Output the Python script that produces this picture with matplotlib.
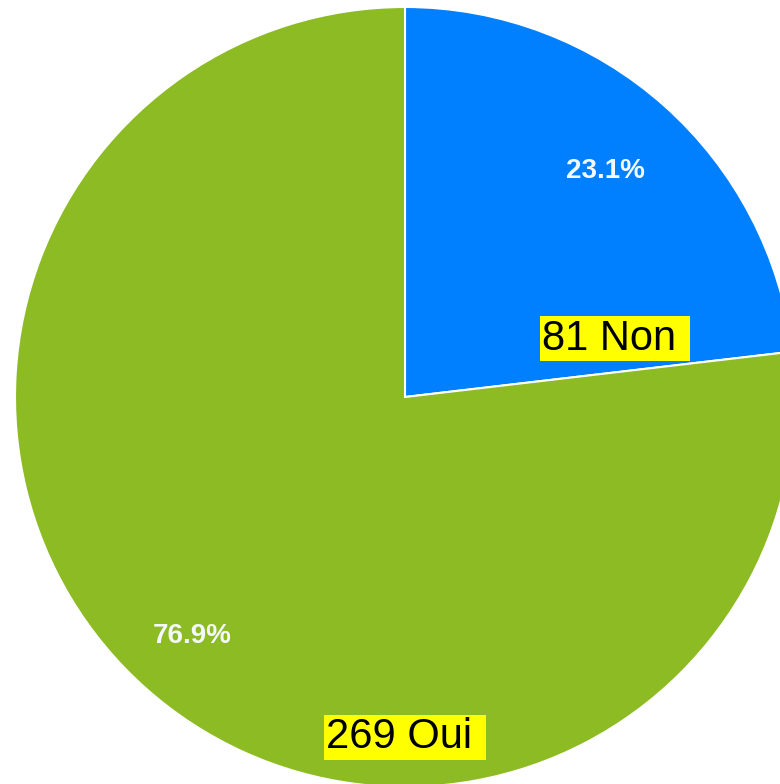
import matplotlib.pyplot as plt
import numpy as np

# Data
categories = ["Non", "Oui"]
counts = [81, 269]
colors = ["#007FFF", "#8CBB24"]

W, H = 780, 784
CX, CY, R = 405, 397, 390  # pie centre / radius in pixels

fig = plt.figure(figsize=(W / 100, H / 100), dpi=100)
ax = fig.add_axes([(CX - R) / W, (H - CY - R) / H, 2 * R / W, 2 * R / H])

wedges, texts, pcts = ax.pie(
    counts,
    colors=colors,
    startangle=90,
    counterclock=False,
    autopct="%1.1f%%",
    pctdistance=0.8,
    wedgeprops=dict(edgecolor="white", linewidth=1.5),
    textprops=dict(color="#F4F8FF", fontsize=20, fontweight="bold",
                   family="Liberation Sans"),
)
ax.set_xlim(-1, 1)
ax.set_ylim(-1, 1)
ax.set_aspect("equal")
ax.axis("off")

# percent labels sit at slightly different radii in the original
pct_radius = [0.775, 0.82]
start = 90
total = sum(counts)
for t, c, r in zip(pcts, counts, pct_radius):
    mid = np.deg2rad(start - 360 * c / total / 2)
    t.set_position((r * np.cos(mid), r * np.sin(mid)))
    start -= 360 * c / total

def px(x, y):
    return (x - CX) / R, (CY - y) / R

box = dict(facecolor="#FFFF00", edgecolor="none", pad=1.8)
for (x, y), n, lab in [((615, 339), counts[0], categories[0]),
                       ((405, 737), counts[1], categories[1])]:
    ax.text(*px(x, y), f"{n} {lab} ", ha="center", va="center",
            fontsize=30, family="Liberation Sans", color="black", bbox=box)

fig.savefig("out.png", dpi=100)
